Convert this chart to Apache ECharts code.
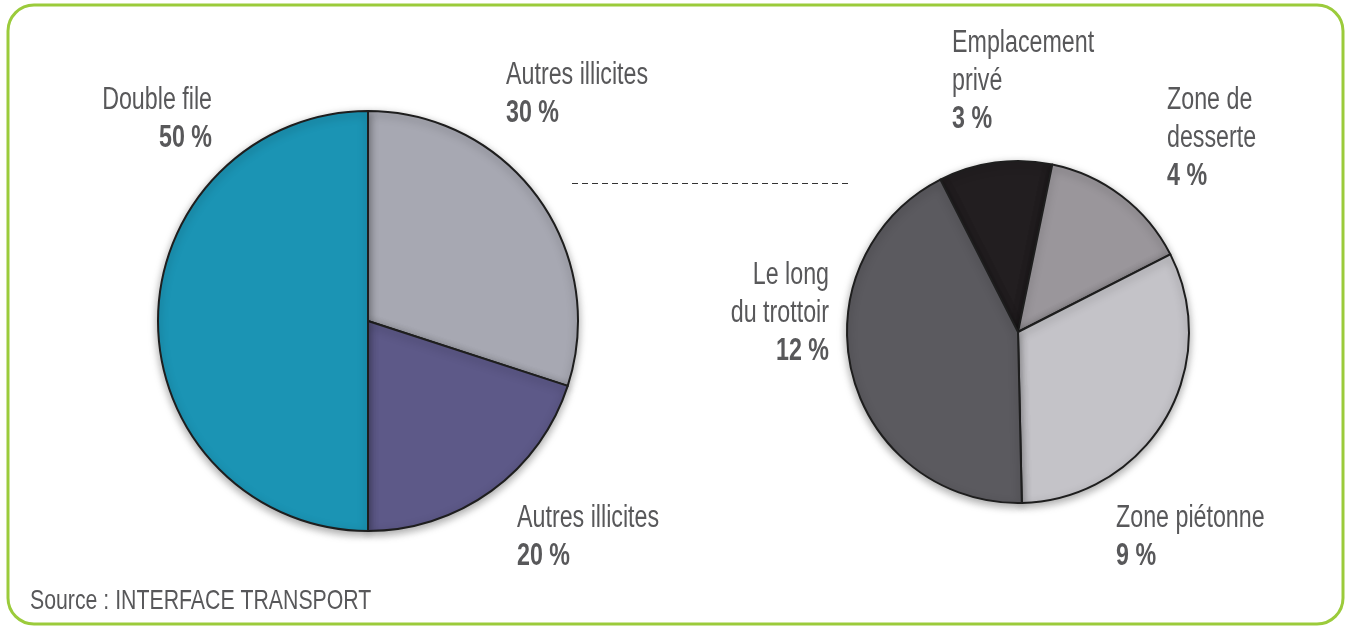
<!DOCTYPE html>
<html>
<head>
<meta charset="utf-8">
<script src="https://cdn.jsdelivr.net/npm/echarts@6/dist/echarts.min.js"></script>
<style>
  html, body { margin: 0; padding: 0; background: #fff; }
  #chart { width: 1350px; height: 630px; }
</style>
</head>
<body>
<div id="chart"></div>
<script>
// left pie: all infractions
var mainNames = ['Autres illicites', 'Autres illicites', 'Double file'];
var mainValues = [30, 20, 50];
var mainColors = ['#a7a8b2', '#5d5988', '#1b94b4'];

// right pie: detail of the 30 %
var detailNames = ['Emplacement privé', 'Zone de desserte', 'Zone piétonne', 'Le long du trottoir'];
var detailValues = [3, 4, 9, 12];
var detailColors = ['#221e20', '#9a969b', '#c4c3c8', '#5b5a5f'];

var sourceText = 'Source : INTERFACE TRANSPORT';

// no condensed font installed -> squeeze Liberation Sans horizontally
var font = '"Liberation Sans", Arial, sans-serif';
var textColor = '#58585a';

var myChart = echarts.init(document.getElementById('chart'));

function txt(s, x, y, align, f, sx) {
    return {
        type: 'text', x: x, y: y, scaleX: sx,
        style: { text: s, font: f, fill: textColor, align: align, verticalAlign: 'middle' }
    };
}

// label blocks: name lines + bold percentage
function labelBlock(lines, pct, x, y, align) {
    var els = lines.map(function (l, i) {
        return txt(l, x, y + i * 38, align, '31px ' + font, 0.75);
    });
    els.push(txt(pct + ' %', x, y + lines.length * 38, align, 'bold 31px ' + font, 0.75));
    return els;
}

var graphics = [
    {
        type: 'rect', shape: { x: 8, y: 5, width: 1335, height: 619, r: 26 },
        style: { fill: 'none', stroke: '#9bcb3b', lineWidth: 3 }, z: -1
    },
    {
        type: 'line', shape: { x1: 572, y1: 183.5, x2: 850, y2: 183.5 },
        style: { stroke: '#333', lineWidth: 1, lineDash: [6, 4] }
    },
    txt(sourceText, 30, 601, 'left', '28px ' + font, 0.76)
];
graphics = graphics
    .concat(labelBlock([mainNames[2]], mainValues[2], 212, 100, 'right'))
    .concat(labelBlock([mainNames[0]], mainValues[0], 506, 75, 'left'))
    .concat(labelBlock([mainNames[1]], mainValues[1], 517, 518, 'left'))
    .concat(labelBlock(['Emplacement', 'privé'], detailValues[0], 952, 43, 'left'))
    .concat(labelBlock(['Zone de', 'desserte'], detailValues[1], 1167, 100, 'left'))
    .concat(labelBlock(['Zone piétonne'], detailValues[2], 1116, 518, 'left'))
    .concat(labelBlock(['Le long', 'du trottoir'], detailValues[3], 829, 275, 'right'));

var pieStyle = {
    borderColor: '#1e1e1e',
    borderWidth: 2,
    shadowBlur: 8,
    shadowColor: 'rgba(0,0,0,0.35)',
    shadowOffsetY: 3
};

var option = {
    animation: false,
    graphic: graphics,
    series: [
        {
            type: 'pie',
            center: [368, 321],
            radius: [0, 210],
            startAngle: 90,
            clockwise: true,
            label: { show: false },
            labelLine: { show: false },
            itemStyle: pieStyle,
            data: mainValues.map(function (v, i) {
                return { name: mainNames[i], value: v, itemStyle: { color: mainColors[i] } };
            })
        },
        {
            type: 'pie',
            center: [1018, 332],
            radius: [0, 171],
            startAngle: 117,
            clockwise: true,
            label: { show: false },
            labelLine: { show: false },
            itemStyle: pieStyle,
            data: detailValues.map(function (v, i) {
                return { name: detailNames[i], value: v, itemStyle: { color: detailColors[i] } };
            })
        }
    ]
};
myChart.setOption(option);
</script>
</body>
</html>
